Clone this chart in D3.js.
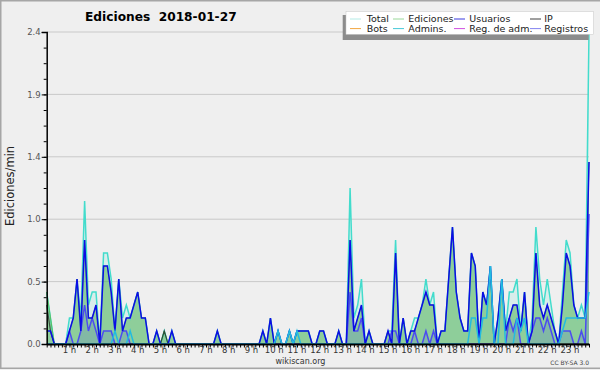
<!DOCTYPE html>
<html>
<head>
<meta charset="utf-8">
<script src="https://cdn.jsdelivr.net/npm/d3@7"></script>
<style>
  body { margin: 0; background: #efefef; }
  svg { display: block; font-family: "DejaVu Sans", sans-serif; }
</style>
</head>
<body>
<svg id="chart" width="600" height="370"></svg>
<script>
// edits per minute, one value per 10 minutes (00:00 ... 23:50)
const total = [
  .4,.2,0,0,0,0,.2,.2,.5,.2,
  1.1,.3,.4,.4,0,.7,.7,.5,.1,.5,
  .2,.3,.2,.3,.4,.2,.2,0,0,.1,
  0,.1,0,.1,0,0,0,0,0,0,
  0,0,0,0,0,.1,0,0,0,0,
  0,0,0,0,0,0,0,.1,0,.2,
  0,.1,0,0,.1,0,.1,.1,.1,.1,
  0,0,.1,.1,0,0,0,.1,0,0,
  1.2,.2,.3,.5,0,.1,0,0,0,0,
  .1,.1,.8,0,.2,0,.1,.2,.2,.3,
  .5,.3,.4,0,.1,.1,.5,.9,.4,.2,
  .1,.1,.7,.6,0,.4,.3,.6,0,.2,
  .5,.1,.4,.4,.5,.1,.4,0,.2,.9,
  .5,.3,.5,.3,.1,0,.4,.8,.7,.3,
  .2,.3,.2,2.4
];
const ediciones = [
  .4,.2,0,0,0,0,.1,.2,.5,.1,
  .8,.2,.2,.3,0,.6,.6,.4,.1,.5,
  .1,.2,.2,.3,.4,.2,.2,0,0,.1,
  0,.1,0,.1,0,0,0,0,0,0,
  0,0,0,0,0,.1,0,0,0,0,
  0,0,0,0,0,0,0,.1,0,.2,
  0,.1,0,0,.1,0,.1,.1,.1,.1,
  0,0,.1,.1,0,0,0,.1,0,0,
  .8,.1,.2,.3,0,.1,0,0,0,0,
  .1,0,.7,0,.2,0,.1,.1,.2,.3,
  .4,.3,.3,0,.1,.1,.5,.9,.4,.2,
  .1,.1,.7,.6,0,.4,.3,.6,0,.2,
  .5,.1,.2,.3,.3,.1,.4,0,.1,.7,
  .3,.2,.3,.2,.1,0,.3,.7,.6,.3,
  .2,.2,.2,1.4
];
const usuarios = [
  .1,.1,0,0,0,0,.1,.2,.5,.1,
  .8,.2,.2,.3,0,.6,.6,.4,.1,.5,
  .1,.2,.2,.3,.4,.2,.2,0,0,.1,
  0,0,0,.1,0,0,0,0,0,0,
  0,0,0,0,0,.1,0,0,0,0,
  0,0,0,0,0,0,0,.1,0,.2,
  0,.1,0,0,.1,0,.1,.1,.1,.1,
  0,0,.1,.1,0,0,0,.1,0,0,
  .8,.1,.2,.3,0,.1,0,0,0,0,
  .1,0,.7,0,.2,0,.1,.1,.2,.3,
  .4,.3,.3,0,.1,.1,.5,.9,.4,.2,
  .1,.1,.7,.6,0,.4,.3,.6,0,.2,
  .5,.1,.2,.3,.3,.1,.4,0,.1,.7,
  .3,.2,.3,.2,.1,0,.3,.7,.6,.3,
  .2,.2,.2,1.4
];
const ip = [
  .3,.1,0,0,0,0,0,0,0,0,
  0,0,0,0,0,0,0,0,0,0,
  0,0,0,0,0,0,0,0,0,0,
  0,.1,0,0,0,0,0,0,0,0,
  0,0,0,0,0,0,0,0,0,0,
  0,0,0,0,0,0,0,0,0,0,
  0,0,0,0,0,0,0,0,0,0,
  0,0,0,0,0,0,0,0,0,0,
  0,0,0,0,0,0,0,0,0,0,
  0,0,0,0,0,0,0,0,0,0,
  0,0,0,0,0,0,0,0,0,0,
  0,0,0,0,0,0,0,0,0,0,
  0,0,0,0,0,0,0,0,0,0,
  0,0,0,0,0,0,0,0,0,0,
  0,0,0,0
];
const admins = [
  0,0,0,0,0,0,0,0,0,0,
  0,0,0,0,0,0,0,0,.1,0,
  0,0,.1,0,0,0,0,0,0,0,
  0,0,0,0,0,0,0,0,0,0,
  0,0,0,0,0,0,0,0,0,0,
  0,0,0,0,0,0,0,0,0,0,
  0,.1,0,0,.1,0,.1,0,0,0,
  0,0,0,0,0,0,0,0,0,0,
  0,0,0,0,0,0,0,0,0,0,
  0,0,0,0,0,0,0,0,0,0,
  0,0,0,0,0,0,0,0,0,0,
  0,0,.2,.2,0,.2,.2,.6,0,0,
  .5,0,0,0,.2,.1,.2,0,0,0,
  0,0,0,0,0,0,.1,.2,.2,.2,
  .2,.2,.2,.4
];
const registros = [
  0,0,0,0,0,0,.1,0,0,.1,
  .3,.1,.2,.1,0,.1,.1,.1,0,0,
  .1,.1,0,0,0,0,0,0,0,0,
  0,0,0,0,0,0,0,0,0,0,
  0,0,0,0,0,0,0,0,0,0,
  0,0,0,0,0,0,0,0,0,0,
  0,0,0,0,0,0,0,0,0,0,
  0,0,0,0,0,0,0,0,0,0,
  .4,.1,.1,.2,0,0,0,0,0,0,
  0,.1,.1,0,0,0,0,.1,0,0,
  .1,0,.1,0,0,0,0,0,0,0,
  0,0,0,0,0,0,0,0,0,0,
  0,0,.2,.1,.2,0,0,0,.1,.2,
  .2,.1,.2,.1,0,0,.1,.1,.1,0,
  0,.1,0,1.0
];

const legendItems = [
  { name: "Total", color: "#b4ebe6" },
  { name: "Ediciones", color: "#9ad89a" },
  { name: "Usuarios", color: "#3a3ae0" },
  { name: "IP", color: "#404040" },
  { name: "Bots", color: "#f2a640" },
  { name: "Admins.", color: "#46c8d8" },
  { name: "Reg. de adm.", color: "#d050e0" },
  { name: "Registros", color: "#8484f0" }
];
const yMajor = [0, 0.48, 0.96, 1.44, 1.92, 2.4];
const yMinor = d3.range(0, 2.41, 0.12);
const hourLabels = d3.range(1, 24);

const svg = d3.select("#chart");

const x = d3.scaleLinear().domain([0, total.length - 1]).range([46.7, 589]);
const y = d3.scaleLinear().domain([0, 2.4]).range([344, 32]);

// frame
svg.append("rect")
    .attr("x", 0.75).attr("y", 0.75)
    .attr("width", 620).attr("height", 367.5)
    .attr("fill", "#efefef")
    .attr("stroke", "#a6a6a6")
    .attr("stroke-width", 1.5);

// grid
svg.append("g").selectAll("line")
    .data(yMajor.slice(1))
    .enter().append("line")
    .attr("x1", 47).attr("x2", 589)
    .attr("y1", d => y(d)).attr("y2", d => y(d))
    .attr("stroke", "#c9c9c9")
    .attr("stroke-width", 1);

const idx = d3.range(total.length);
const area = arr => d3.area().x(i => x(i)).y0(y(0)).y1(i => y(arr[i]));
const line = arr => d3.line().x(i => x(i)).y(i => y(arr[i]));

// fills
svg.append("path").datum(idx).attr("d", area(total)).attr("fill", "rgba(64,224,208,0.13)");
svg.append("path").datum(idx).attr("d", area(ediciones)).attr("fill", "rgba(60,172,64,0.47)");
svg.append("path").datum(idx).attr("d", area(registros)).attr("fill", "rgba(70,70,230,0.15)");

// lines
const lines = [
  { data: total, color: "#42dccc", w: 1.5 },
  { data: ediciones, color: "#5cbf5c", w: 1 },
  { data: registros, color: "#4c4cf0", w: 1.5 },
  { data: ip, color: "rgba(30,30,30,0.7)", w: 1.2 },
  { data: usuarios, color: "#0c0ce6", w: 1.5 },
  { data: admins, color: "#22bce0", w: 1.5 }
];
lines.forEach(s => {
  svg.append("path").datum(idx)
      .attr("d", line(s.data))
      .attr("fill", "none")
      .attr("stroke", s.color)
      .attr("stroke-width", s.w)
      .attr("stroke-linejoin", "miter");
});

// y axis
const yAxis = svg.append("g")
    .attr("transform", "translate(46.7,0)")
    .call(d3.axisLeft(y).tickValues(yMajor).tickFormat(d3.format(".1f")).tickSize(5).tickPadding(1));
yAxis.select(".domain").attr("stroke", "#000").attr("stroke-width", 1.5);
yAxis.selectAll("text").attr("font-size", 8.5).attr("fill", "#555").attr("font-family", "DejaVu Sans");
svg.append("g")
    .attr("transform", "translate(46.7,0)")
    .call(d3.axisLeft(y).tickValues(yMinor).tickFormat("").tickSize(3))
    .select(".domain").remove();

// x axis
const xAxis = svg.append("g")
    .attr("transform", "translate(0,344)")
    .call(d3.axisBottom(x).tickValues(idx).tickFormat("").tickSize(3.5).tickSizeOuter(0));
xAxis.select(".domain").attr("stroke", "#000").attr("stroke-width", 2);

svg.append("g").selectAll("text")
    .data(hourLabels)
    .enter().append("text")
    .attr("x", d => x(d * 6))
    .attr("y", 353)
    .attr("text-anchor", "middle")
    .attr("font-size", 8.5)
    .attr("fill", "#333")
    .text(d => d + " h");

// titles
svg.append("text")
    .attr("x", 85).attr("y", 21)
    .attr("font-size", 12.2)
    .attr("font-weight", "bold")
    .style("white-space", "pre")
    .text("Ediciones  2018-01-27");

svg.append("text")
    .attr("transform", "translate(14,186) rotate(-90)")
    .attr("text-anchor", "middle")
    .attr("font-size", 11.5)
    .attr("fill", "#222")
    .text("Ediciones/min");

svg.append("text")
    .attr("x", 300.5).attr("y", 363.5)
    .attr("text-anchor", "middle")
    .attr("font-size", 8)
    .attr("fill", "#333")
    .text("wikiscan.org");

svg.append("text")
    .attr("x", 589).attr("y", 365)
    .attr("text-anchor", "end")
    .attr("font-size", 6)
    .attr("fill", "#444")
    .text("CC BY-SA 3.0");

// legend
const lg = svg.append("g");
lg.append("rect")
    .attr("x", 342.7).attr("y", 15)
    .attr("width", 246).attr("height", 25)
    .attr("fill", "#8c8c8c");
lg.append("rect")
    .attr("x", 346).attr("y", 11.7)
    .attr("width", 247.3).attr("height", 22.6)
    .attr("fill", "#fff")
    .attr("stroke", "#c8c8c8")
    .attr("stroke-width", 0.5);

const colX = [350, 393, 454, 530];
const textX = [366.7, 408.3, 469.3, 544.3];
const rowY = [19, 28.6];
const entries = lg.selectAll("g.item")
    .data(legendItems)
    .enter().append("g")
    .attr("class", "item");
entries.append("line")
    .attr("x1", (d, i) => colX[i % 4])
    .attr("x2", (d, i) => colX[i % 4] + 11)
    .attr("y1", (d, i) => rowY[Math.floor(i / 4)])
    .attr("y2", (d, i) => rowY[Math.floor(i / 4)])
    .attr("stroke", d => d.color)
    .attr("stroke-width", 1);
entries.append("text")
    .attr("x", (d, i) => textX[i % 4])
    .attr("y", (d, i) => rowY[Math.floor(i / 4)] + 3.4)
    .attr("font-size", 9.5)
    .attr("fill", "#222")
    .text(d => d.name);
</script>
</body>
</html>
